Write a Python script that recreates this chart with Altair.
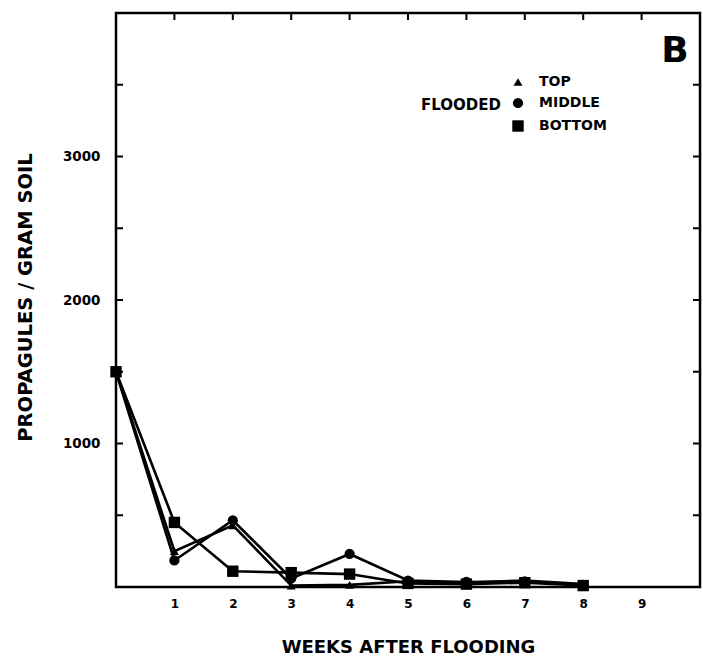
import altair as alt
import pandas as pd

weeks = [0, 1, 2, 3, 4, 5, 6, 7, 8]
top_vals = [1500, 250, 430, 10, 15, 40, 30, 45, 20]
middle_vals = [1500, 185, 465, 60, 230, 45, 35, 40, 15]
bottom_vals = [1500, 450, 110, 100, 90, 25, 20, 30, 10]
series_names = ["TOP", "MIDDLE", "BOTTOM"]
series_shapes = ["triangle-up", "circle", "square"]
series_sizes = [80, 130, 140]

x_labels = [1, 2, 3, 4, 5, 6, 7, 8, 9]
y_labels = [1000, 2000, 3000]
y_ticks = [500, 1000, 1500, 2000, 2500, 3000, 3500]
x_ticks = [1, 2, 3, 4, 5, 6, 7, 8, 9]

W, H = 584, 574
FONT = "DejaVu Sans"

rows = []
for name, vals in zip(series_names, [top_vals, middle_vals, bottom_vals]):
    for w, v in zip(weeks, vals):
        rows.append({"week": w, "value": v, "series": name})
df = pd.DataFrame(rows)

xscale = alt.Scale(domain=[0, 10], nice=False, zero=False)
yscale = alt.Scale(domain=[0, 4000], nice=False)

x_enc = alt.X("week:Q", scale=xscale, axis=alt.Axis(
    values=x_labels, format="d", tickSize=0, domain=False, grid=False, labelPadding=11,
    labelFont=FONT, labelFontWeight="bold", labelFontSize=12, labelColor="black",
    title="WEEKS AFTER FLOODING", titleFont=FONT, titleFontWeight="bold",
    titleFontSize=18, titleColor="black", titleY=60, titleBaseline="middle"))
y_enc = alt.Y("value:Q", scale=yscale, axis=alt.Axis(
    values=y_labels, format="d", tickSize=0, domain=False, grid=False, labelPadding=16,
    labelFont=FONT, labelFontWeight="bold", labelFontSize=13.5, labelColor="black",
    title="PROPAGULES / GRAM SOIL", titleFont=FONT, titleFontWeight="bold",
    titleFontSize=19.5, titleColor="black", titleX=-91, titleY=284,
    titleAngle=270, titleBaseline="middle", titleAlign="center"))

lines = alt.Chart(df).mark_line(color="black", strokeWidth=2.6).encode(
    x=x_enc, y=y_enc, detail="series:N")

points = alt.Chart(df).mark_point(filled=True, color="black", opacity=1).encode(
    x=alt.X("week:Q", scale=xscale),
    y=alt.Y("value:Q", scale=yscale),
    shape=alt.Shape("series:N", scale=alt.Scale(domain=series_names, range=series_shapes),
                    legend=alt.Legend(
                        title="FLOODED", orient="none", legendX=305, legendY=62,
                        titleOrient="left", titleAnchor="middle", titleBaseline="middle",
                        titleFont=FONT, titleFontWeight="bold", titleFontSize=15,
                        titleColor="black", titlePadding=10,
                        labelFont=FONT, labelFontWeight="bold", labelFontSize=14,
                        labelColor="black", labelOffset=14, rowPadding=5,
                        symbolFillColor="black", symbolStrokeColor="black")),
    size=alt.Size("series:N", scale=alt.Scale(domain=series_names, range=series_sizes)),
)

yt = pd.DataFrame({"value": y_ticks})
xt = pd.DataFrame({"week": x_ticks})
left_ticks = alt.Chart(yt).mark_rule(color="black", strokeWidth=2).encode(
    y=alt.Y("value:Q", scale=yscale), x=alt.value(0), x2=alt.value(7))
right_ticks = alt.Chart(yt).mark_rule(color="black", strokeWidth=2).encode(
    y=alt.Y("value:Q", scale=yscale), x=alt.value(W - 7), x2=alt.value(W))
top_ticks = alt.Chart(xt).mark_rule(color="black", strokeWidth=2).encode(
    x=alt.X("week:Q", scale=xscale), y=alt.value(0), y2=alt.value(7))

panel = alt.Chart(pd.DataFrame({"t": ["B"]})).mark_text(
    font=FONT, fontWeight="bold", fontSize=36, color="black", align="center", baseline="middle"
).encode(text="t:N", x=alt.value(559), y=alt.value(38))

chart = alt.layer(lines, points, left_ticks, right_ticks, top_ticks, panel).properties(
    width=W, height=H,
    autosize=alt.AutoSizeParams(type="none"),
    padding={"left": 116, "top": 13, "right": 3, "bottom": 71},
    background="white",
).configure_view(stroke="black", strokeWidth=2.5)

chart.save("out.html", embed_options={"renderer": "svg", "actions": False})
